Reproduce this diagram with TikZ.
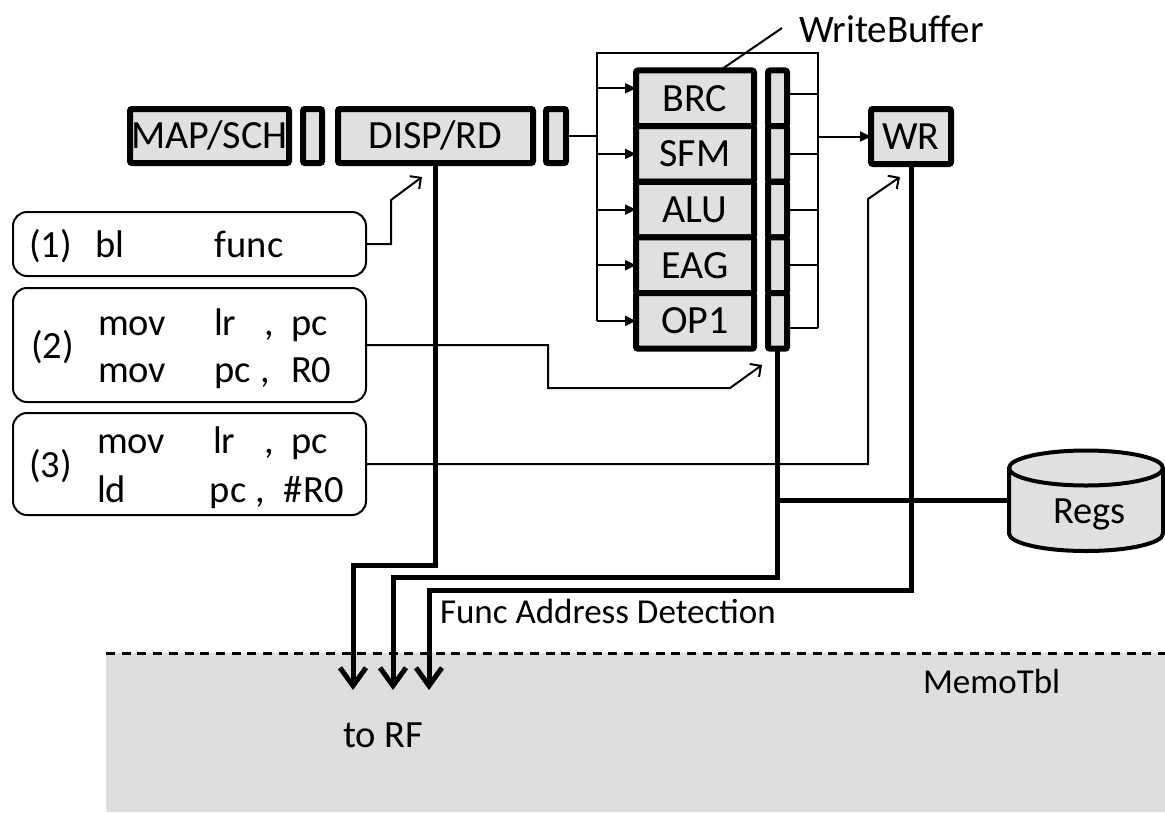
\documentclass[tikz,border=0pt]{standalone}
\usepackage{fontspec}
\setmainfont{Carlito}
\usetikzlibrary{arrows.meta}
\definecolor{boxgray}{HTML}{E0E0E0}
\definecolor{memogray}{HTML}{DEDEDE}

\tikzset{
  stage/.style={draw, line width=6pt, fill=boxgray, inner sep=0pt, outer sep=0pt,
    rounded corners=2pt, font=\fontsize{40}{46}\selectfont, text height=25.8pt, text depth=0pt},
  instr/.style={draw, line width=2pt, rounded corners=14pt, inner sep=0pt, outer sep=0pt},
  txt/.style={inner sep=0pt, outer sep=0pt, anchor=base west, font=\fontsize{38.5}{44}\selectfont},
  smalltxt/.style={txt, font=\fontsize{35}{40}\selectfont},
  wire/.style={line width=2pt},
  feed/.style={wire, -{Triangle[length=11pt,width=10pt]}},
  hint/.style={wire, -{Straight Barb[length=8pt,width=16pt]}},
  bus/.style={line width=5pt, -{Straight Barb[length=18pt,width=26pt]}},
}

\begin{document}
\begin{tikzpicture}[x=1pt, y=-1pt]
\useasboundingbox (0,0) rectangle (1165,812);

% memo table region
\fill[memogray] (106,653) rectangle (1165,812);
\draw[line width=3pt, dash pattern=on 9pt off 6.7pt] (106,653) -- (1165,653);

% front-end stages and pipeline latches
\node[stage, minimum width=159pt, minimum height=54pt] (map) at (209.5,136) {MAP/SCH};
\node[stage, minimum width=19pt, minimum height=54pt] (lat1) at (312.5,136) {};
\node[stage, minimum width=195pt, minimum height=54pt] (disp) at (435.5,136) {DISP/RD};
\node[stage, minimum width=20pt, minimum height=54pt] (lat2) at (556,136) {};

% execution units
\node[stage, minimum width=118pt, minimum height=55.64pt] (brc) at (695,98.3) {BRC};
\node[stage, minimum width=118pt, minimum height=55.64pt] (sfm) at (695,153.9) {SFM};
\node[stage, minimum width=118pt, minimum height=55.64pt] (alu) at (695,209.6) {ALU};
\node[stage, minimum width=118pt, minimum height=55.64pt] (eag) at (695,265.2) {EAG};
\node[stage, minimum width=118pt, minimum height=55.64pt] (op1) at (695,320.9) {OP1};

% write buffer cells
\node[stage, minimum width=19pt, minimum height=55.64pt] (wb1) at (777.5,98.3) {};
\node[stage, minimum width=19pt, minimum height=55.64pt] (wb2) at (777.5,153.9) {};
\node[stage, minimum width=19pt, minimum height=55.64pt] (wb3) at (777.5,209.6) {};
\node[stage, minimum width=19pt, minimum height=55.64pt] (wb4) at (777.5,265.2) {};
\node[stage, minimum width=19pt, minimum height=55.64pt] (wb5) at (777.5,320.9) {};

% write-back stage
\node[stage, minimum width=80pt, minimum height=55pt] (wr) at (911,136.5) {WR};

% issue and result brackets
\coordinate (fx) at (597,53);
\coordinate (gx) at (818,53);
\draw[wire] (fx |- op1.west) -- (fx) -- (gx) -- ([yshift=-7pt]gx |- wb5.east);
\draw[wire] (lat2.east) -- (fx |- lat2.east);
\coordinate (brcin) at ([yshift=10pt]brc.west);
\draw[feed] (fx |- brcin) -- (brcin);
\draw[feed] (fx |- sfm.west) -- (sfm.west);
\draw[feed] (fx |- alu.west) -- (alu.west);
\draw[feed] (fx |- eag.west) -- (eag.west);
\draw[feed] (fx |- op1.west) -- (op1.west);
\draw[wire] ([yshift=4pt]wb1.east) -- ([yshift=4pt]gx |- wb1.east);
\draw[wire] (wb2.east) -- (gx |- wb2.east);
\draw[wire] (wb3.east) -- (gx |- wb3.east);
\draw[wire] (wb4.east) -- (gx |- wb4.east);
\draw[wire] ([yshift=-7pt]wb5.east) -- ([yshift=-7pt]gx |- wb5.east);
\draw[feed] (gx |- wr.west) -- (wr.west);

% write buffer label
\node[txt, font=\fontsize{39}{44}\selectfont] (wblabel) at (799,42) {WriteBuffer};
\draw[wire] (782,28) -- ([xshift=25pt]brc.north);

% instruction sequences
\node[instr, minimum width=353pt, minimum height=64pt] (in1) at (189.5,244) {};
\node[instr, minimum width=353pt, minimum height=114pt] (in2) at (189.5,345) {};
\node[instr, minimum width=353pt, minimum height=102pt] (in3) at (189.5,464) {};

\node[txt] (n1) at (29,257) {(1)};
\node[txt] (c1) at (95,257) {\makebox[120pt][l]{bl}func};
\node[txt] (n2) at (31,358) {(2)};
\node[txt] (c2a) at (98,335) {\makebox[116pt][l]{mov}\makebox[51pt][l]{lr}\makebox[26pt][l]{,}pc};
\node[txt] (c2b) at (98,382) {\makebox[116pt][l]{mov}\makebox[47pt][l]{pc}\makebox[30pt][l]{,}R0};
\node[txt] (n3) at (29,477) {(3)};
\node[txt] (c3a) at (97,453) {\makebox[116pt][l]{mov}\makebox[52pt][l]{lr}\makebox[26pt][l]{,}pc};
\node[txt] (c3b) at (97,502) {\makebox[113pt][l]{ld}\makebox[46pt][l]{pc}\makebox[28pt][l]{,}\#R0};

% detection hints from the instruction sequences
\coordinate (h1) at (422,177);
\coordinate (h2) at (762,365);
\coordinate (h3) at (900,177);
\draw[hint] (in1.east) -- (391,244) -- (391,200) -- (h1);
\draw[hint] (in2.east) -- (548,345) -- (548,388) -- (730,388) -- (h2);
\draw[hint] (in3.east) -- (868,464) -- (868,199) -- (h3);

% register file
\node[inner sep=0pt, outer sep=0pt, minimum width=154pt, minimum height=65.5pt] (regs) at (1086,500.75) {};
\fill[boxgray] (regs.north west) -- (regs.south west)
  arc[start angle=180, end angle=360, x radius=77pt, y radius=17.5pt]
  -- (regs.north east)
  arc[start angle=0, end angle=180, x radius=77pt, y radius=17.5pt] -- cycle;
\draw[line width=4pt] (regs.north west) -- (regs.south west)
  arc[start angle=180, end angle=360, x radius=77pt, y radius=17.5pt]
  -- (regs.north east);
\draw[line width=4pt] (regs.north) ellipse[x radius=77pt, y radius=17.5pt];
\node[txt, anchor=base] (regstxt) at (1089.5,523) {Regs};

% result buses into the memo table
\coordinate (rf1) at (353,690);
\coordinate (rf2) at (393,690);
\coordinate (rf3) at (429,690);
\draw[bus] (disp.south) |- (353,565) -- (rf1);
\draw[bus] (wb5.south) |- (393,577) -- (rf2);
\draw[bus] (wr.south) |- (429,590) -- (rf3);
\draw[line width=5pt] (wb5.south |- regs.west) -- (regs.west);

% labels
\node[smalltxt] (fad) at (440,623) {Func Address Detection};
\node[smalltxt] (memo) at (923,693) {MemoTbl};
\node[txt] (torf) at (343,747) {to RF};
\end{tikzpicture}
\end{document}
